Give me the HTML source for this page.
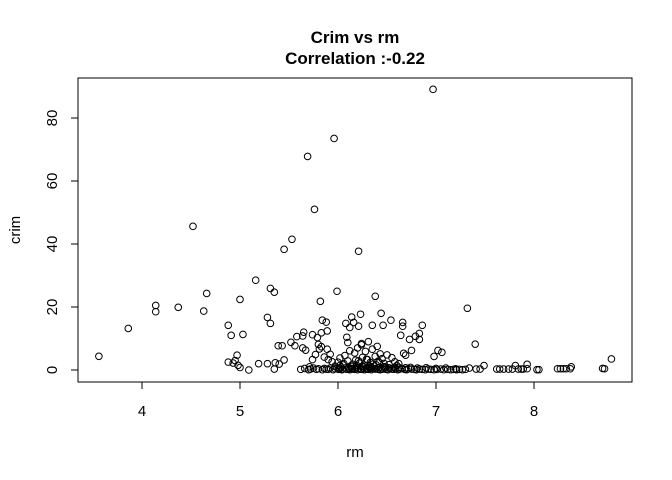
<!DOCTYPE html>
<html><head><meta charset="utf-8"><style>
body{margin:0;background:#fff;}
svg{display:block;font-family:"Liberation Sans",Arial,sans-serif;}
</style></head><body>
<svg id="chart" width="672" height="480" viewBox="0 0 672 480">
<rect width="672" height="480" fill="#fff"/>
<text x="355" y="43" text-anchor="middle" font-size="17" font-weight="bold">Crim vs rm</text>
<text x="355" y="64" text-anchor="middle" font-size="17" font-weight="bold">Correlation :-0.22</text>
<rect x="78" y="78" width="554" height="304" fill="none" stroke="#000" stroke-width="1"/>
<text x="355" y="457" text-anchor="middle" font-size="15">rm</text>
<text transform="translate(20,230) rotate(-90)" text-anchor="middle" font-size="15">crim</text>
<g id="axes"></g>
<g id="points"></g>
</svg>
<script>
const xTicks=[4,5,6,7,8];
const yTicks=[0,20,40,60,80];
const rm=[3.56,3.86,4.14,4.14,4.37,4.52,4.63,4.66,4.88,4.91,4.97,4.88,4.93,4.95,4.98,5.0,5.0,5.03,5.09,5.16,5.19,5.28,5.28,5.31,5.31,5.35,5.35,
5.36,5.4,5.39,5.43,5.45,5.45,5.53,5.52,5.56,5.58,5.64,5.67,5.64,5.65,5.74,5.74,5.77,5.81,5.69,5.76,5.96,5.82,5.99,
5.84,5.88,5.89,5.83,5.79,5.8,5.83,5.89,5.92,5.86,5.9,5.94,6.08,6.12,6.14,6.09,6.1,
6.97,6.21,6.38,7.32,6.23,6.44,6.54,6.66,6.66,6.86,6.16,6.21,6.35,6.46,6.64,6.73,6.79,6.83,6.83,7.4,6.67,6.69,6.75,6.98,7.02,7.06,
8.79,8.70,8.72,8.38,8.24,8.27,8.30,8.33,8.37,8.03,8.05,7.93,7.93,7.81,7.62,7.65,7.69,7.74,7.78,7.84,7.87,7.89,7.49,7.45,7.41,7.34,
5.62,5.66,5.7,5.72,5.75,5.78,5.8,5.84,5.86,5.88,5.9,5.92,5.95,5.97,6.0,6.01,6.02,6.04,6.05,6.07,6.09,6.11,6.12,6.14,6.15,6.17,6.18,6.2,6.21,6.23,6.24,6.26,6.27,6.29,6.3,6.31,6.33,6.34,6.36,6.38,6.39,6.41,6.43,6.44,6.46,6.48,6.49,6.51,6.53,6.55,6.57,6.59,6.61,6.63,6.65,6.68,6.7,6.72,6.75,6.78,6.8,6.83,6.86,6.89,6.92,6.95,6.98,7.01,7.05,7.08,7.12,7.15,7.18,7.21,7.24,7.27,7.3,5.71,5.97,6.03,6.13,6.19,6.25,6.32,6.37,6.42,6.47,6.52,6.58,6.62,6.69,6.74,6.81,6.9,7.0,7.1,7.2,
6.0,6.02,6.05,6.07,6.1,6.12,6.15,6.17,6.18,6.2,6.22,6.24,6.25,6.27,6.28,6.3,6.31,6.33,6.35,6.36,6.38,6.4,6.41,6.43,6.45,6.47,6.5,6.52,6.55,6.58,6.6,6.62,6.15,6.19,6.21,6.26,6.29,6.32,6.34,6.39,6.42,6.48,6.11,6.06,6.02,6.24,6.37,6.28];
const crim=[4.35,13.2,20.5,18.5,19.9,45.6,18.7,24.3,14.2,11.0,4.7,2.5,2.2,3.0,1.5,0.8,22.4,11.3,0.0,28.5,2.0,2.0,16.7,14.8,25.9,24.7,0.3,
2.3,1.9,7.7,7.7,38.3,3.2,41.5,8.8,7.7,10.6,10.8,6.3,7.0,12.0,11.2,3.3,4.9,6.7,67.8,51.0,73.5,21.8,25.0,
15.8,15.2,12.4,11.8,10.3,8.1,7.4,6.6,5.0,4.1,3.3,2.6,14.8,13.5,16.8,10.4,8.7,
89.1,37.7,23.4,19.6,17.7,18.0,15.8,15.1,13.9,14.2,15.1,13.9,14.2,14.2,11.0,9.7,10.7,11.6,9.7,8.2,5.3,4.7,6.2,4.3,6.2,5.6,
3.5,0.5,0.4,1.0,0.4,0.4,0.4,0.4,0.4,0.1,0.1,1.8,0.4,1.4,0.3,0.3,0.3,0.3,0.3,0.3,0.3,0.3,1.4,0.3,0.3,0.6,
0.2,0.5,0.1,0.3,0.6,0.2,0.4,0.1,0.5,0.3,0.2,0.6,0.1,0.4,0.3,0.2,0.5,0.1,0.3,0.6,0.2,0.4,0.1,0.5,0.3,0.2,0.4,0.1,0.6,0.3,0.2,0.5,0.1,0.4,0.3,0.2,0.6,0.1,0.4,0.3,0.5,0.2,0.1,0.4,0.3,0.6,0.2,0.1,0.5,0.3,0.2,0.4,0.1,0.3,0.5,0.2,0.1,0.4,0.3,0.2,0.1,0.3,0.2,0.1,0.3,0.2,0.1,0.2,0.3,0.1,0.2,0.1,0.2,0.1,0.2,0.1,0.2,1.0,1.2,0.9,1.3,0.8,1.1,0.9,1.2,0.8,1.0,0.7,0.9,0.8,0.7,0.8,0.6,0.7,0.5,0.6,0.4,
2.5,3.8,1.6,4.6,2.9,6.1,1.8,5.4,3.1,7.0,2.2,8.4,4.0,1.5,5.9,3.3,9.0,2.4,6.6,1.9,4.3,7.5,2.8,5.1,3.6,2.1,4.8,1.7,3.9,2.6,1.4,2.0,1.2,1.5,2.9,1.1,3.4,1.3,0.9,1.6,2.3,1.0,0.7,2.0,1.4,8.0];
const X=v=>142+(v-4)*98, Y=v=>370-v*3.15;
const ns="http://www.w3.org/2000/svg";
const ax=document.getElementById('axes');
function mk(t,a,p){const e=document.createElementNS(ns,t);for(const k in a)e.setAttribute(k,a[k]);p.appendChild(e);return e;}
mk('line',{x1:X(4),x2:X(8),y1:382,y2:382,stroke:'#000'},ax);
xTicks.forEach(t=>{
  const l=mk('line',{x1:X(t),x2:X(t),y1:382,y2:389,stroke:'#000'},ax);
  
  
  const s=mk('text',{x:X(t),y:416,'text-anchor':'middle','font-size':15},ax);
  
  
  s.textContent=t;
});
mk('line',{x1:78,x2:78,y1:Y(0),y2:Y(80),stroke:'#000'},ax);
yTicks.forEach(t=>{
  const l=mk('line',{x1:71,x2:78,y1:Y(t),y2:Y(t),stroke:'#000'},ax);
  
  
  const s=mk('text',{transform:`translate(57,${Y(t)}) rotate(-90)`,'text-anchor':'middle','font-size':15},ax);
  
  
  s.textContent=t;
});
const pg=document.getElementById('points');
const n=Math.min(rm.length,crim.length);
for(let i=0;i<n;i++){
  const c=mk('circle',{cx:X(rm[i]),cy:Y(crim[i]),r:3.3,fill:'none',stroke:'#000','stroke-width':1},pg);
  
  
}
</script>
</body></html>
